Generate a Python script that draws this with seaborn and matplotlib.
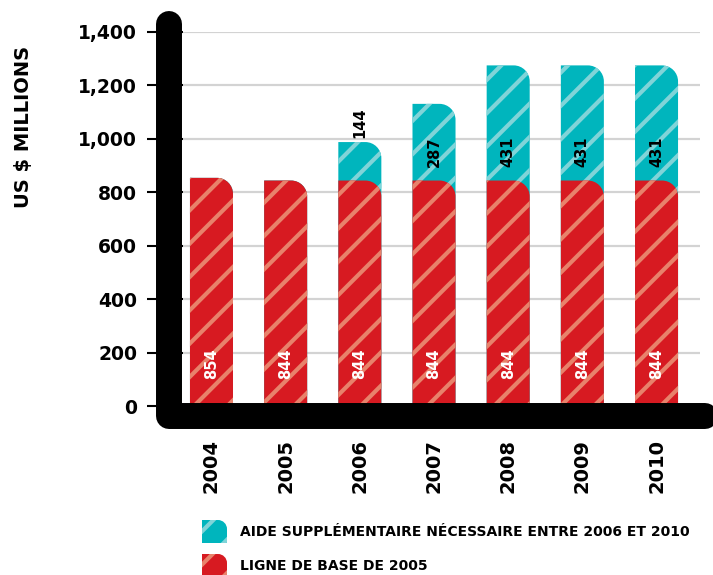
import numpy as np
import seaborn as sns
import matplotlib
matplotlib.use("Agg")
from matplotlib import pyplot as plt
from matplotlib.path import Path
from matplotlib.patches import PathPatch, Rectangle
from matplotlib.lines import Line2D

# data
years = ["2004", "2005", "2006", "2007", "2008", "2009", "2010"]
baseline = [854, 844, 844, 844, 844, 844, 844]
extra = [0, 0, 144, 287, 431, 431, 431]
y_ticks = [0, 200, 400, 600, 800, 1000, 1200, 1400]
legend_labels = ["AIDE SUPPLÉMENTAIRE NÉCESSAIRE ENTRE 2006 ET 2010",
                 "LIGNE DE BASE DE 2005"]

RED, RED_STRIPE = "#D71A21", "#E8826B"
TEAL, TEAL_STRIPE = "#00B5BD", "#80D4D8"

sns.set_style("white")
plt.rcParams["font.family"] = ["DejaVu Sans"]
plt.rcParams["hatch.linewidth"] = 3.0
plt.rcParams["text.color"] = "black"
plt.rcParams["xtick.color"] = "black"
plt.rcParams["ytick.color"] = "black"

W, H = 713, 575
fig = plt.figure(figsize=(W / 100, H / 100), dpi=100)
ax = fig.add_axes([183 / W, (H - 406) / H, (700 - 183) / W, (406 - 32) / H])

totals = [b + e for b, e in zip(baseline, extra)]
sns.barplot(x=years, y=totals, color=TEAL, width=0.58, errorbar=None, ax=ax)
sns.barplot(x=years, y=baseline, color=RED, width=0.58, errorbar=None, ax=ax)

ax.set_xlim(-0.384, 6.586)
ax.set_ylim(0, 1400)


def rounded_path(x0, y0, w, h, rx, ry):
    # rectangle with a rounded top-right corner
    k = 0.5523
    x1, y1 = x0 + w, y0 + h
    verts = [(x0, y0), (x1, y0), (x1, y1 - ry),
             (x1, y1 - ry + k * ry), (x1 - rx + k * rx, y1), (x1 - rx, y1),
             (x0, y1), (x0, y0)]
    codes = [Path.MOVETO, Path.LINETO, Path.LINETO,
             Path.CURVE4, Path.CURVE4, Path.CURVE4,
             Path.LINETO, Path.CLOSEPOLY]
    return Path(verts, codes)


# swap seaborn's rectangles for rounded, striped ones
radius_px = 16
bbox = ax.get_window_extent()
rx = radius_px * (ax.get_xlim()[1] - ax.get_xlim()[0]) / bbox.width
ry = radius_px * (ax.get_ylim()[1] - ax.get_ylim()[0]) / bbox.height
rects = [p for p in ax.patches if isinstance(p, Rectangle)]
n = len(years)
for i, p in enumerate(rects):
    is_base = i >= n
    face = RED if is_base else TEAL
    stripe = RED_STRIPE if is_base else TEAL_STRIPE
    path = rounded_path(p.get_x(), p.get_y(), p.get_width(), p.get_height(), rx, ry)
    ax.add_patch(PathPatch(path, facecolor=face, edgecolor=stripe, hatch="/",
                           linewidth=0, zorder=3 if is_base else 2))
    p.remove()

# value labels
for i in range(n):
    ax.text(i, 160, str(baseline[i]), rotation=90, ha="center", va="center",
            color="white", fontsize=10.5, fontweight="bold", zorder=5)
    if extra[i] > 0:
        ypos = totals[i] + 72 if extra[i] < 200 else 950
        ax.text(i, ypos, str(extra[i]), rotation=90, ha="center", va="center",
                color="black", fontsize=10.5, fontweight="bold", zorder=5)

ax.set_yticks(y_ticks)
ax.set_yticklabels([f"{v:,}" for v in y_ticks], fontsize=13.5, fontweight="bold")
ax.set_xticks(range(n))
ax.set_xticklabels(years, rotation=90, fontsize=14, fontweight="bold")
ax.tick_params(axis="y", direction="out", length=26, width=1.5, color="black", pad=7, left=True)
ax.tick_params(axis="x", length=0, pad=24)
ax.grid(axis="y", color="#D3D3D3", linewidth=1.6)
ax.set_axisbelow(True)
for s in ax.spines.values():
    s.set_visible(False)
ax.set_xlabel("")
ax.set_ylabel("")

# thick black axis frame
fig.add_artist(Line2D([169 / W, 169 / W, 705 / W],
                      [1 - 24 / H, 1 - 416 / H, 1 - 416 / H],
                      transform=fig.transFigure, color="black", linewidth=18.7,
                      solid_capstyle="round", solid_joinstyle="round", zorder=10))

fig.text(24 / W, 1 - 127 / H, "US $ MILLIONS", rotation=90, ha="center", va="center",
         fontsize=14, fontweight="bold")

# legend
leg_items = [(TEAL, TEAL_STRIPE, 520), (RED, RED_STRIPE, 554)]
for (face, stripe, top), label in zip(leg_items, legend_labels):
    path = rounded_path(202 / W, 1 - (top + 23) / H, 25 / W, 23 / H, 9 / W, 9 / H)
    fig.add_artist(PathPatch(path, facecolor=face, edgecolor=stripe, hatch="/",
                             linewidth=0, transform=fig.transFigure))
    fig.text(240 / W, 1 - (top + 12) / H, label, ha="left", va="center",
             fontsize=10, fontweight="bold")

fig.savefig("out.png", dpi=100)
